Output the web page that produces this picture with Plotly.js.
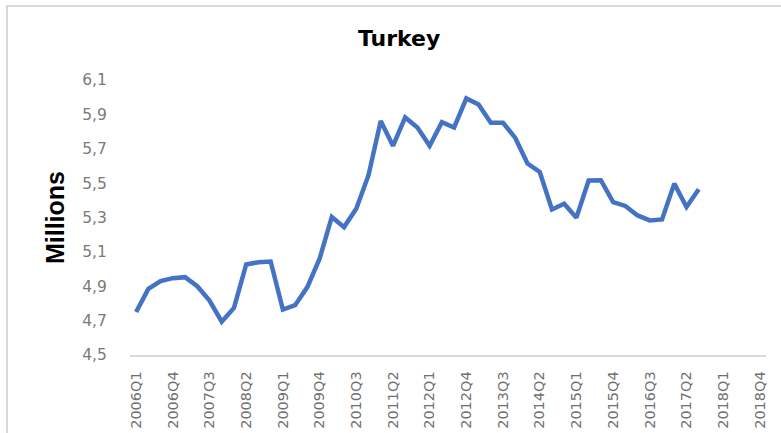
<!DOCTYPE html>
<html>
<head>
<meta charset="utf-8">
<script src="https://cdn.plot.ly/plotly-3.0.1.min.js"></script>
<style>
  html, body { margin: 0; padding: 0; background: #fff; }
  #wrap { position: relative; width: 781px; height: 433px; overflow: hidden; }
  #chart { width: 781px; height: 433px; }
  #frame { position: absolute; left: 6px; top: 5px; width: 800px; height: 460px;
           border-left: 2px solid #d9d9d9; border-top: 2px solid #d9d9d9; pointer-events: none; }
</style>
</head>
<body>
<div id="wrap">
  <div id="chart"></div>
  <div id="frame"></div>
</div>
<script>
// Quarter categories shown on the axis
const quarters = [
  "2006Q1","2006Q2","2006Q3","2006Q4",
  "2007Q1","2007Q2","2007Q3","2007Q4",
  "2008Q1","2008Q2","2008Q3","2008Q4",
  "2009Q1","2009Q2","2009Q3","2009Q4",
  "2010Q1","2010Q2","2010Q3","2010Q4",
  "2011Q1","2011Q2","2011Q3","2011Q4",
  "2012Q1","2012Q2","2012Q3","2012Q4",
  "2013Q1","2013Q2","2013Q3","2013Q4",
  "2014Q1","2014Q2","2014Q3","2014Q4",
  "2015Q1","2015Q2","2015Q3","2015Q4",
  "2016Q1","2016Q2","2016Q3","2016Q4",
  "2017Q1","2017Q2","2017Q3","2017Q4",
  "2018Q1","2018Q2","2018Q3","2018Q4"
];

// Labelled ticks (every third quarter)
const tickLabels = [
  "2006Q1","2006Q4","2007Q3","2008Q2","2009Q1","2009Q4","2010Q3","2011Q2","2012Q1",
  "2012Q4","2013Q3","2014Q2","2015Q1","2015Q4","2016Q3","2017Q2","2018Q1","2018Q4"
];

// Turkey, millions (2006Q1 .. 2017Q3)
const turkey = [
  4.75, 4.885, 4.93, 4.947, 4.953, 4.90, 4.817, 4.694,
  4.774, 5.027, 5.04, 5.044, 4.764, 4.79, 4.895, 5.06,
  5.303, 5.244, 5.351, 5.546, 5.862, 5.717, 5.882, 5.824,
  5.717, 5.855, 5.824, 5.993, 5.958, 5.851, 5.851, 5.763,
  5.614, 5.565, 5.347, 5.38, 5.299, 5.515, 5.517, 5.39,
  5.367, 5.312, 5.283, 5.289, 5.497, 5.361, 5.464
];

const yTicks = [4.5, 4.7, 4.9, 5.1, 5.3, 5.5, 5.7, 5.9, 6.1];

const trace = {
  type: 'scatter',
  mode: 'lines',
  x: quarters.slice(0, turkey.length),
  y: turkey,
  line: { color: '#4472C4', width: 4.5 },
  hoverinfo: 'x+y'
};

const layout = {
  width: 781,
  height: 433,
  margin: { l: 130, r: 15, t: 80, b: 78 },
  paper_bgcolor: '#ffffff',
  plot_bgcolor: '#ffffff',
  separators: ', ',
  showlegend: false,
  title: {
    text: 'Turkey',
    font: { family: 'DejaVu Sans', size: 22, color: '#000000', weight: 'bold' },
    x: 0.511, xref: 'container', xanchor: 'center',
    y: 0.912, yref: 'container', yanchor: 'middle'
  },
  xaxis: {
    type: 'category',
    categoryorder: 'array',
    categoryarray: quarters,
    range: [-0.5, quarters.length - 0.5],
    tickmode: 'array',
    tickvals: tickLabels,
    ticktext: tickLabels,
    tickangle: -90,
    tickfont: { family: 'DejaVu Sans', size: 14.5, color: '#707070' },
    ticks: 'outside',
    ticklen: 9,
    tickcolor: 'rgba(0,0,0,0)',
    showline: true,
    linecolor: '#d9d9d9',
    linewidth: 1.5,
    showgrid: false,
    zeroline: false,
    fixedrange: true
  },
  yaxis: {
    range: [4.5, 6.1],
    tickmode: 'array',
    tickvals: yTicks,
    tickformat: '.1f',
    tickfont: { family: 'DejaVu Sans', size: 15.5, color: '#7a7a7a' },
    ticks: 'outside',
    ticklen: 19,
    tickcolor: 'rgba(0,0,0,0)',
    showline: false,
    showgrid: false,
    zeroline: false,
    title: {
      text: 'Millions',
      font: { family: 'Liberation Sans', size: 25, color: '#000000', weight: 'bold' },
      standoff: 10
    },
    fixedrange: true
  }
};

Plotly.newPlot('chart', [trace], layout, { displayModeBar: false, staticPlot: true });
</script>
</body>
</html>
